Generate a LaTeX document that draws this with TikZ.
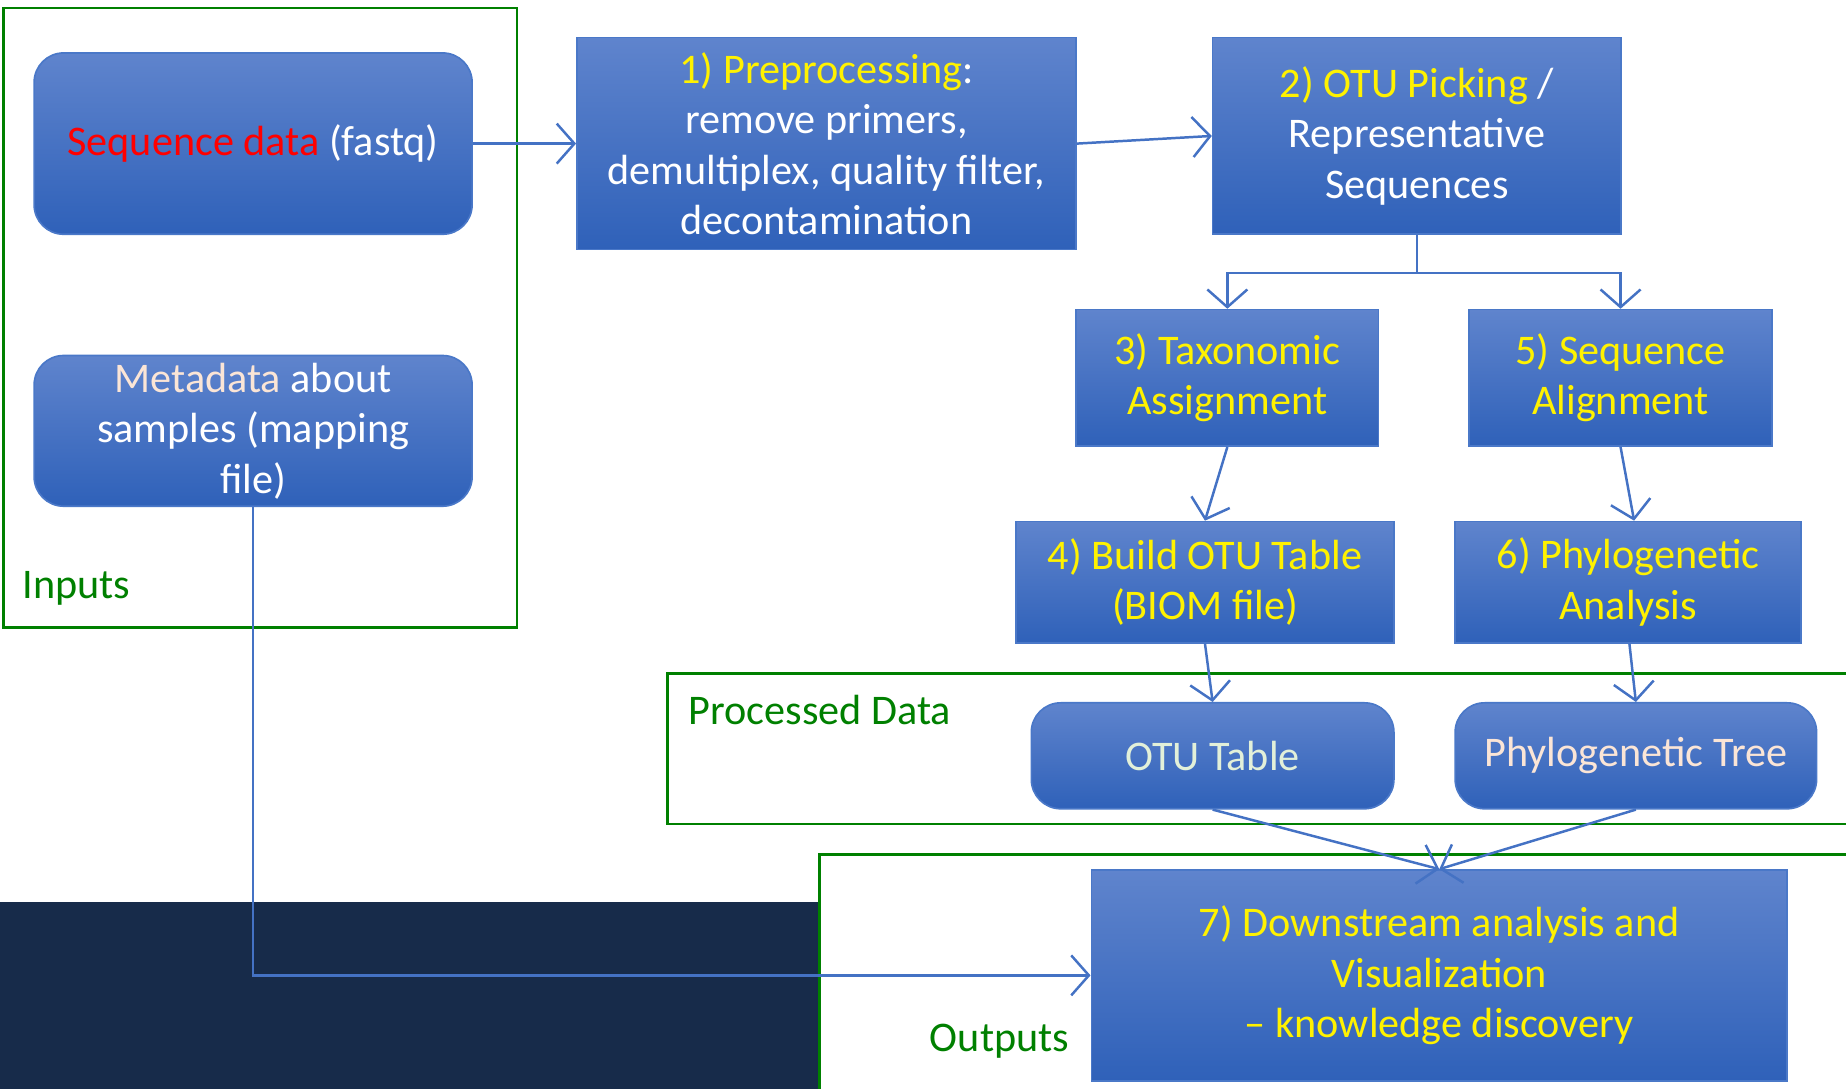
\documentclass[tikz,border=0pt]{standalone}
\usepackage{fontspec}
\setmainfont{Carlito}
\usepackage{tikz}
\usetikzlibrary{arrows.meta,positioning}
\definecolor{boxtop}{HTML}{5F84CD}
\definecolor{boxbot}{HTML}{2F61B9}
\definecolor{boxline}{HTML}{4A78C8}
\definecolor{flowblue}{HTML}{4472C4}
\definecolor{framegreen}{HTML}{008000}
\definecolor{navy}{HTML}{172B4A}
\definecolor{peach}{HTML}{FBE5D6}
\definecolor{mint}{HTML}{E2F0D9}

\begin{document}
\begin{tikzpicture}[
		font=\fontsize{10.2pt}{12.2pt}\selectfont,
		procbox/.style={rectangle, top color=boxtop, bottom color=boxbot, draw=boxline, line width=0.4pt, align=center, inner sep=0pt},
		databox/.style={procbox, rounded corners=0.25cm},
		frame/.style={draw=framegreen, line width=0.6pt},
		flow/.style={draw=flowblue, line width=0.6pt, -{Straight Barb[length=1.5mm,width=3.4mm]}}
	]
		%\draw [help lines] (0,0) grid (16,9);
		\useasboundingbox (0,0) rectangle (15.68,9.25);
		\fill[navy] (0,0) rectangle (6.96,1.59);
		
		% frames
		\draw[frame] (0.03,3.92) rectangle (4.39,9.18);
		\draw[frame] (5.67,2.25) rectangle (15.8,3.53);
		\draw[frame] (6.96,-0.2) rectangle (15.8,1.99);
		\node [text=framegreen] (inlab) at (0.65,4.25) {Inputs};
		\node [text=framegreen] (proclab) at (6.965,3.22) {Processed Data};
		\node [text=framegreen] (outlab) at (8.49,0.41) {Outputs};
		
		% inputs
		\node [databox, minimum width=3.72cm, minimum height=1.54cm] (seq) at (2.15,8.03)
			{\textcolor{red}{Sequence data} \textcolor{white}{(fastq)}};
		\node [databox, minimum width=3.72cm, minimum height=1.28cm] (meta) at (2.15,5.59)
			{\textcolor{peach}{Metadata} \textcolor{white}{about}\\ \textcolor{white}{samples (mapping}\\ \textcolor{white}{file)}};
		
		% steps
		\node [procbox, minimum width=4.24cm, minimum height=1.80cm] (prep) at (7.02,8.03)
			{\textcolor{yellow}{1) Preprocessing}\textcolor{white}{:}\\ \textcolor{white}{remove primers,}\\ \textcolor{white}{demultiplex, quality filter,}\\ \textcolor{white}{decontamination}};
		\node [procbox, minimum width=3.47cm, minimum height=1.67cm] (otu) at (12.035,8.095)
			{\textcolor{yellow}{2) OTU Picking} \textcolor{white}{/}\\ \textcolor{white}{Representative}\\ \textcolor{white}{Sequences}};
		\node [procbox, minimum width=2.57cm, minimum height=1.16cm, text=yellow] (tax) at (10.425,6.04)
			{3) Taxonomic\\ Assignment};
		\node [procbox, minimum width=2.57cm, minimum height=1.16cm, text=yellow] (align) at (13.765,6.04)
			{5) Sequence\\ Alignment};
		\node [procbox, minimum width=3.21cm, minimum height=1.03cm, text=yellow] (biom) at (10.235,4.305)
			{4) Build OTU Table\\ (BIOM file)};
		\node [procbox, minimum width=2.94cm, minimum height=1.03cm, text=yellow] (phylo) at (13.83,4.305)
			{6) Phylogenetic\\ Analysis};
		
		% processed data
		\node [databox, minimum width=3.08cm, minimum height=0.90cm, text=mint] (otutab) at (10.30,2.83) {OTU Table};
		\node [databox, minimum width=3.07cm, minimum height=0.90cm, text=peach] (tree) at (13.895,2.83) {Phylogenetic Tree};
		
		% outputs
		\node [procbox, minimum width=5.91cm, minimum height=1.79cm, text=yellow] (down) at (12.225,0.965)
			{7) Downstream analysis and\\ Visualization\\ \textendash{} knowledge discovery};
		
		% connectors
		\coordinate [below=0.32 of otu.south] (split);
		\draw[flow] (seq) -- (prep);
		\draw[flow] (prep.east) -- (otu.west);
		\draw[flowblue, line width=0.6pt] (otu.south) -- (split);
		\draw[flow] (split) -| (tax.north);
		\draw[flow] (split) -| (align.north);
		\draw[flow] (tax.south) -- (biom.north);
		\draw[flow] (align.south) -- ([xshift=0.05cm]phylo.north);
		\draw[flow] (biom.south) -- (otutab.north);
		\draw[flow] ([xshift=0.01cm]phylo.south) -- (tree.north);
		\draw[flow] (otutab.south) -- (down.north);
		\draw[flow] (tree.south) -- (down.north);
		\draw[flow] (meta.south) |- (down.west);
\end{tikzpicture}
\end{document}
